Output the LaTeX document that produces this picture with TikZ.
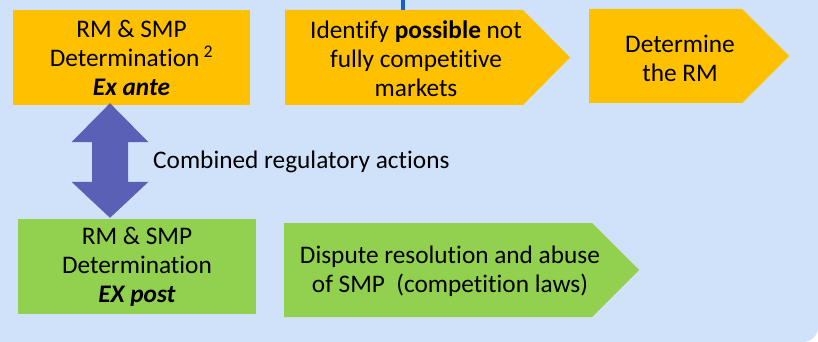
\documentclass[tikz,border=0pt]{standalone}
\usepackage{fontspec}
\setmainfont[Ligatures=NoCommon]{Carlito}
\usetikzlibrary{calc}

\definecolor{bgblue}{RGB}{207,226,250}
\definecolor{exorange}{RGB}{255,192,0}
\definecolor{expgreen}{RGB}{146,208,80}
\definecolor{arrowblue}{RGB}{91,96,183}
\definecolor{lineblue}{RGB}{21,96,200}

\tikzset{
  lbl/.style={align=center, inner sep=0pt, font=\fontsize{25.3}{29}\selectfont},
}

\begin{document}
\begin{tikzpicture}[x=1pt, y=-1pt]
\useasboundingbox (0,0) rectangle (818,342);

% background panel
\fill[bgblue] (0,0) rectangle (803,342);
\fill[bgblue] (0,0) rectangle (818,327);
\fill[bgblue] (803,327) circle (15);

\def\ty{10};
\def\by{105};
\def\tip{47};

% ex ante row
\node[lbl, fill=exorange, minimum width=237pt, minimum height=95pt] (exante) at (131.5,57.5)
  {RM \& SMP\\Determination\,\textsuperscript{2}\\\textbf{\textit{Ex ante}}};

\fill[exorange] (285,\ty) -- (523,\ty) -- (523 + \tip,57.5) -- (523,\by) -- (285,\by) -- cycle;
\node[lbl] (ident) at (416,59) {Identify \textbf{possible} not\\fully competitive\\markets};

\fill[exorange] (589,9) -- (742,9) -- (742 + \tip,56) -- (742,103) -- (589,103) -- cycle;
\node[lbl] (detrm) at (680,58) {Determine\\the RM};

\coordinate (linetop) at (403,0);
\draw[lineblue, line width=4pt] (linetop) -- (403,\ty);

% ex post row
\node[lbl, fill=expgreen, minimum width=238pt, minimum height=95pt] (expost) at (137,266.5)
  {RM \& SMP\\Determination\\\textbf{\textit{EX post}}};

\fill[expgreen] (284,223) -- (592,223) -- (592 + \tip,270) -- (592,317) -- (284,317) -- cycle;
\node[lbl] (dispute) at (450,271) {Dispute resolution and abuse\\of SMP\ \ (competition laws)};

% double arrow between the rows
\coordinate (atop) at ($(exante.south) + (-21.5,-2)$);
\coordinate (abot) at ($(expost.north) + (-27,-1)$);
\fill[arrowblue] (atop) -- ++(38.5,39) -- ++(-20.5,0) -- ($(abot) + (18,-36)$) -- ++(20.5,0)
  -- (abot) -- ++(-38.5,-36) -- ++(20.5,0) -- ($(atop) + (-18,39)$) -- ++(-20.5,0) -- cycle;
\node[lbl, anchor=west] (combined) at (153,162) {Combined regulatory actions};

\end{tikzpicture}
\end{document}
